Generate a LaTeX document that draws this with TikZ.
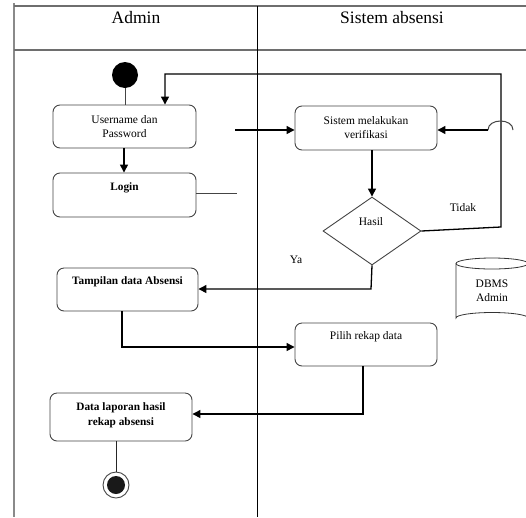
\documentclass[tikz,border=0pt]{standalone}
\usepackage{fontspec}
\setmainfont{Liberation Serif}
\usetikzlibrary{arrows.meta,shapes.geometric}
\definecolor{boxline}{HTML}{444444}
\definecolor{frameline}{HTML}{8A8A8A}
\tikzset{
  actbox/.style={draw=boxline,line width=0.9pt,rounded corners=7pt,minimum width=#1,inner sep=0pt},
  lbl/.style={font=\fontsize{11.5}{14}\selectfont,align=center,inner sep=0pt},
  blbl/.style={font=\fontsize{11.3}{14.5}\selectfont\bfseries,align=center,inner sep=0pt},
  arr/.style={line width=1.3pt,-{Triangle[length=8pt,width=8pt]}},
  thin/.style={line width=0.8pt,draw=boxline},
  lane/.style={line width=0.8pt,draw=black},
}
\begin{document}
\begin{tikzpicture}[x=1pt,y=-1pt]
\useasboundingbox (0,0) rectangle (526,517);
% swimlanes
\draw[line width=1.6pt,frameline] (14,3) -- (14,517);
\draw[line width=1.2pt,frameline!80!black] (14,6) -- (526,6);
\draw[line width=1.2pt,frameline!80!black] (14,50) -- (526,50);
\draw[lane] (257,6) -- (257,517);
\node[font=\fontsize{17.5}{20}\selectfont,inner sep=0pt] (hadmin) at (136,18) {Admin};
\node[font=\fontsize{17.5}{20}\selectfont,inner sep=0pt] (hsys) at (392,18) {Sistem absensi};
% nodes
\node[circle,fill=black,minimum size=26pt,inner sep=0pt] (start) at (125,75) {};
\node[actbox=143pt,minimum height=43pt] (user) at (124.5,126.5) {};
\node[lbl] (usert) at (124.5,127) {Username dan\\Password};
\node[actbox=143pt,minimum height=44pt] (login) at (124.5,195) {};
\node[blbl] (logint) at (124.5,188) {Login};
\node[actbox=142pt,minimum height=44pt] (sys) at (366,128) {};
\node[lbl] (syst) at (366,127.5) {Sistem melakukan\\verifikasi};
\node[draw=boxline,line width=0.9pt,diamond,minimum width=98pt,minimum height=68pt,inner sep=0pt] (dec) at (372,231) {};
\node[lbl] (dect) at (371,222) {Hasil};
\node[lbl] (tidak) at (463,208) {Tidak};
\node[lbl] (ya) at (296,260) {Ya};
\node[actbox=141pt,minimum height=43pt] (tamp) at (127.5,289.5) {};
\node[blbl] (tampt) at (127.5,282) {Tampilan data Absensi};
\node[actbox=142pt,minimum height=43pt] (pilih) at (366,344.5) {};
\node[lbl] (pliht) at (366,337) {Pilih rekap data};
\node[actbox=142pt,minimum height=48pt] (data) at (121,417) {};
\node[blbl] (datat) at (121,415.5) {Data laporan hasil\\rekap absensi};
\node[circle,draw=boxline,line width=0.9pt,minimum size=26pt,inner sep=0pt] (end) at (116,485) {};
\node[circle,fill=black!90,minimum size=18pt,inner sep=0pt] (endin) at (116,485) {};
% database
\draw[thin,draw=black!80] (456,263.5) -- (456,318) arc[start angle=180,end angle=360,x radius=36,y radius=5.5] -- (528,263.5);
\draw[thin,draw=black!80] (492,263.5) ellipse[x radius=36,y radius=5.5];
\node[lbl] (dbt) at (492,290.5) {DBMS\\Admin};
% connectors
\draw[thin] (start) -- (user.north -| start);
\draw[arr] (user.south -| 124,0) -- (login.north -| 124,0);
\coordinate (loginend) at (237,193);
\draw[thin] (login.east |- loginend) -- (loginend);
\coordinate (toSys) at (235,130);
\draw[arr] (toSys) -- (sys.west |- toSys);
\draw[arr] (sys.south -| dec.north) -- (dec.north);
\coordinate (loopA) at (501,227);
\coordinate (loopB) at (501,74);
\coordinate (loopC) at (165,74);
\draw[arr] (dec.east) -- (loopA) -- (loopB) -- (loopC) -- (user.north -| loopC);
\coordinate (hopR) at (513,130);
\coordinate (hopL) at (488,130);
\draw[thin,line width=1pt] (hopR) .. controls (513,118) and (488,118) .. (hopL);
\draw[arr] (hopL) -- (sys.east |- hopL);
\coordinate (yaCorner) at (371,289);
\draw[arr] (dec.south) -- (yaCorner) -- (tamp.east |- yaCorner);
\coordinate (tp) at (122,347);
\draw[arr] (tamp.south -| tp) -- (tp) -- (pilih.west |- tp);
\coordinate (pd) at (363,414);
\draw[arr] (pilih.south -| pd) -- (pd) -- (data.east |- pd);
\draw[thin,draw=black!85] (data.south -| end) -- (end.north);
\end{tikzpicture}
\end{document}
